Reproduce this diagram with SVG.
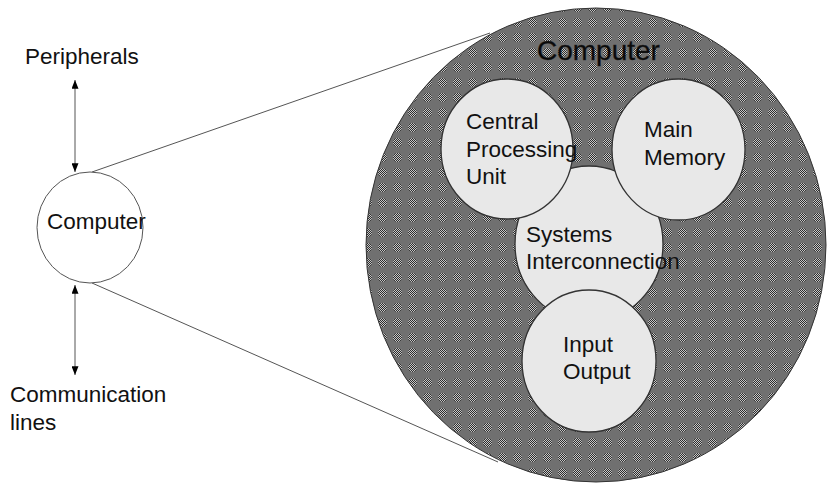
<svg xmlns="http://www.w3.org/2000/svg" width="827" height="484" viewBox="0 0 827 484">
<defs>
<style>
text{font-family:"Liberation Sans",Arial,sans-serif;font-size:22.5px;fill:#111}
.title{font-size:28px;fill:#0a0a0a;stroke:#222;stroke-width:0.4}
.conn{stroke:#555;stroke-width:1;fill:none}
.inner{fill:#e8e8e8;stroke:#333;stroke-width:1.3}
</style>
<pattern id="chk" width="2" height="2" patternUnits="userSpaceOnUse">
<rect width="2" height="2" fill="#c8c8c8"/>
<rect width="1" height="1" fill="#2a2a2a"/>
<rect x="1" y="1" width="1" height="1" fill="#2a2a2a"/>
</pattern>
<pattern id="dots" width="15" height="15" patternUnits="userSpaceOnUse">
<rect width="15" height="15" fill="#707070"/>
<circle cx="7.5" cy="7.5" r="4.5" fill="url(#chk)"/>
</pattern>
<marker id="ah" viewBox="0 0 10 8" refX="10" refY="4" markerWidth="9" markerHeight="7" orient="auto-start-reverse" markerUnits="userSpaceOnUse">
<path d="M0,0 L10,4 L0,8 Z" fill="#000"/>
</marker>
</defs>
<g id="connectors">
<line class="conn" x1="75" y1="80" x2="75" y2="172" marker-start="url(#ah)" marker-end="url(#ah)"/>
<line class="conn" x1="75" y1="285" x2="75" y2="375" marker-start="url(#ah)" marker-end="url(#ah)"/>
<line class="conn" x1="92" y1="172" x2="490" y2="33"/>
<line class="conn" x1="92" y1="283" x2="498" y2="462"/>
</g>
<g id="peripherals"><text x="25" y="64">Peripherals</text></g>
<g id="communication"><text x="10" y="402">Communication</text><text x="10" y="430">lines</text></g>
<g id="computer-small">
<ellipse cx="90" cy="227.5" rx="53" ry="55.5" fill="#fff" stroke="#555" stroke-width="1"/>
<text x="47" y="229">Computer</text>
</g>
<g id="computer-big">
<ellipse cx="596" cy="245" rx="230" ry="237" fill="url(#dots)" stroke="#333" stroke-width="1"/>
<text class="title" x="537" y="60">Computer</text>
</g>
<g id="systems-interconnection">
<ellipse class="inner" cx="589" cy="244" rx="74" ry="78"/>
</g>
<g id="cpu">
<ellipse class="inner" cx="507" cy="149" rx="66" ry="70"/>
</g>
<g id="main-memory">
<ellipse class="inner" cx="678.5" cy="149.5" rx="66.5" ry="70.5"/>
<text x="644" y="137">Main</text>
<text x="644" y="165">Memory</text>
</g>
<g id="input-output">
<ellipse class="inner" cx="589" cy="361" rx="67" ry="71"/>
<text x="563" y="352">Input</text>
<text x="563" y="379">Output</text>
</g>
<g id="labels">
<text x="466" y="129">Central</text>
<text x="466" y="157">Processing</text>
<text x="466" y="184">Unit</text>
<text x="526" y="242">Systems</text>
<text x="526" y="269">Interconnection</text>
</g>
</svg>
